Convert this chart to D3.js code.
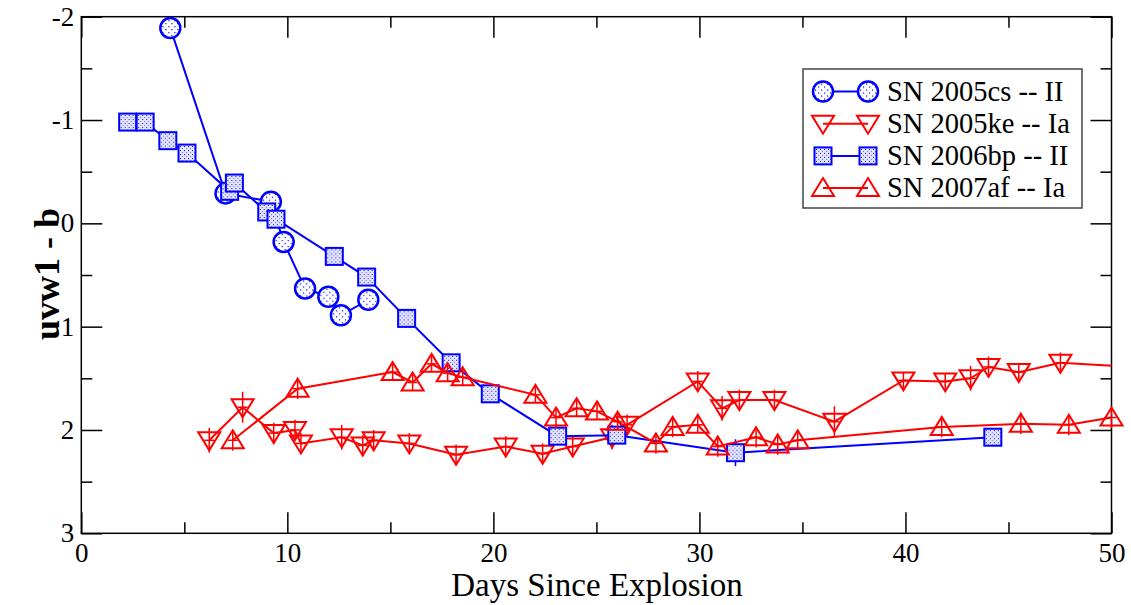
<!DOCTYPE html>
<html>
<head>
<meta charset="utf-8">
<script src="https://cdn.jsdelivr.net/npm/d3@7"></script>
<style>
  body { margin: 0; background: #fff; }
  text { font-family: "Liberation Serif", "Times New Roman", serif; }
</style>
</head>
<body>
<svg id="chart" width="1131" height="605"></svg>
<script>
// データ（日数, uvw1 - b, 誤差）
var cs05Day = [4.32, 7.0, 9.2, 9.82, 10.86, 11.99, 12.6, 13.93];
var cs05Mag = [-1.89, -0.29, -0.21, 0.18, 0.63, 0.71, 0.89, 0.74];

var ke05Day = [6.21, 7.83, 9.34, 10.37, 10.66, 12.64, 13.66, 14.19, 15.92, 18.19, 20.6, 22.39, 23.85, 25.76, 26.49,
               29.92, 31.1, 31.94, 33.64, 36.55, 39.9, 41.93, 43.16, 44.03, 45.5, 47.52, 52.0];
var ke05Mag = [2.10, 1.78, 2.03, 2.00, 2.13, 2.07, 2.15, 2.10, 2.13, 2.24, 2.16, 2.23, 2.16, 2.07, 1.95,
               1.53, 1.79, 1.71, 1.71, 1.92, 1.52, 1.53, 1.50, 1.39, 1.44, 1.35, 1.40];
var ke05Err = [0.12, 0.15, 0.1, 0.1, 0.1, 0.12, 0.1, 0.1, 0.1, 0.1, 0.1, 0.1, 0.1, 0.12, 0.1,
               0.1, 0.12, 0.1, 0.1, 0.15, 0.08, 0.08, 0.12, 0.1, 0.08, 0.1, 0.1];

var bp06Day = [2.25, 3.1, 4.2, 5.13, 7.2, 7.43, 9.0, 9.45, 12.28, 13.85, 15.79, 17.95, 19.85, 23.12, 25.99, 31.75, 44.24];
var bp06Mag = [-0.98, -0.98, -0.80, -0.68, -0.31, -0.39, -0.11, -0.04, 0.32, 0.52, 0.92, 1.35, 1.65, 2.06, 2.05, 2.22, 2.07];
var bp06Err = [0, 0, 0, 0, 0, 0, 0, 0, 0, 0, 0, 0, 0, 0, 0, 0.13, 0];

var af07Day = [7.35, 10.5, 15.11, 16.08, 17.0, 17.78, 18.51, 22.04, 23.04, 24.04, 25.03, 26.03, 27.89, 28.7,
               29.92, 30.89, 32.75, 33.8, 34.77, 41.76, 45.6, 47.93, 50.0];
var af07Mag = [2.10, 1.60, 1.44, 1.54, 1.36, 1.45, 1.49, 1.66, 1.88, 1.79, 1.82, 1.92, 2.13, 1.97,
               1.95, 2.16, 2.07, 2.14, 2.10, 1.97, 1.94, 1.95, 1.88];
var af07Err = [0.1, 0.1, 0.08, 0.08, 0.08, 0.08, 0.08, 0.08, 0.1, 0.08, 0.08, 0.08, 0.1, 0.1,
               0.08, 0.1, 0.1, 0.1, 0.08, 0.1, 0.1, 0.1, 0.1];

var xTicks = [0, 10, 20, 30, 40, 50];
var yTicks = [-2, -1, 0, 1, 2, 3];
var legendNames = ['SN 2005cs -- II', 'SN 2005ke -- Ia', 'SN 2006bp -- II', 'SN 2007af -- Ia'];

var svg = d3.select('#chart');
var pL = 81.3, pR = 1111.5, pT = 16.7, pB = 533.3;

var x = d3.scaleLinear().domain([0, 50]).range([pL, pR]);
var y = d3.scaleLinear().domain([-2, 3]).range([pT, pB]);

// 塗りつぶしパターン
var defs = svg.append('defs');
var pc = defs.append('pattern').attr('id', 'dotCircle')
  .attr('patternUnits', 'userSpaceOnUse').attr('width', 6).attr('height', 6);
pc.append('rect').attr('width', 6).attr('height', 6).attr('fill', '#fff');
pc.append('rect').attr('x', 1).attr('y', 1).attr('width', 1.2).attr('height', 1.2).attr('fill', '#0000ff');
pc.append('rect').attr('x', 4).attr('y', 4).attr('width', 1.2).attr('height', 1.2).attr('fill', '#0000ff');

var ps = defs.append('pattern').attr('id', 'dotSquare')
  .attr('patternUnits', 'userSpaceOnUse').attr('width', 4).attr('height', 4);
ps.append('rect').attr('width', 4).attr('height', 4).attr('fill', '#e4e6ff');
ps.append('rect').attr('x', 1).attr('y', 1).attr('width', 1).attr('height', 1).attr('fill', '#0000ff');
ps.append('rect').attr('x', 3).attr('y', 3).attr('width', 1).attr('height', 1).attr('fill', '#6060ff');

defs.append('clipPath').attr('id', 'plotClip')
  .append('rect').attr('x', pL).attr('y', pT).attr('width', pR - pL).attr('height', pB - pT);

// 軸（目盛りは内向き）
function styleAxis(g) {
  g.select('.domain').remove();
  g.selectAll('line').attr('stroke', '#000').attr('stroke-width', 1.5);
  g.selectAll('text').attr('fill', '#000').style('font-size', '27px')
    .style('font-family', '"Liberation Serif", serif');
}
var minorX = [5, 15, 25, 35, 45];
var minorY = [-1.5, -0.5, 0.5, 1.5, 2.5];

svg.append('g').attr('transform', 'translate(0,' + pB + ')')
  .call(d3.axisBottom(x).tickValues(xTicks).tickSize(-21).tickPadding(10).tickFormat(d3.format('d')))
  .call(styleAxis);
svg.append('g').attr('transform', 'translate(0,' + pB + ')')
  .call(d3.axisBottom(x).tickValues(minorX).tickSize(-11).tickFormat(''))
  .call(styleAxis);
svg.append('g').attr('transform', 'translate(0,' + pT + ')')
  .call(d3.axisTop(x).tickValues(xTicks).tickSize(-21).tickFormat(''))
  .call(styleAxis);
svg.append('g').attr('transform', 'translate(0,' + pT + ')')
  .call(d3.axisTop(x).tickValues(minorX).tickSize(-11).tickFormat(''))
  .call(styleAxis);
svg.append('g').attr('transform', 'translate(' + pL + ',0)')
  .call(d3.axisLeft(y).tickValues(yTicks).tickSize(-21).tickPadding(7).tickFormat(function(d) { return String(d); }))
  .call(styleAxis);
svg.append('g').attr('transform', 'translate(' + pL + ',0)')
  .call(d3.axisLeft(y).tickValues(minorY).tickSize(-11).tickFormat(''))
  .call(styleAxis);
svg.append('g').attr('transform', 'translate(' + pR + ',0)')
  .call(d3.axisRight(y).tickValues(yTicks).tickSize(-21).tickFormat(''))
  .call(styleAxis);
svg.append('g').attr('transform', 'translate(' + pR + ',0)')
  .call(d3.axisRight(y).tickValues(minorY).tickSize(-11).tickFormat(''))
  .call(styleAxis);

svg.append('rect')
  .attr('x', pL).attr('y', pT).attr('width', pR - pL).attr('height', pB - pT)
  .attr('fill', 'none').attr('stroke', '#000').attr('stroke-width', 1.5);

// 軸ラベル
svg.append('text').attr('x', 597).attr('y', 596).attr('text-anchor', 'middle')
  .style('font-size', '33px').text('Days Since Explosion');
svg.append('text').attr('transform', 'translate(59,274) rotate(-90)').attr('text-anchor', 'middle')
  .style('font-size', '36px').style('font-weight', 'bold').text('uvw1 - b');

// マーカー
var triDown = 'M-11,-8L11,-8L0,10Z';
var triUp = 'M0,-10L11,8L-11,8Z';

function drawMarker(g, type, color) {
  if (type === 'circle') {
    g.append('circle').attr('r', 10).attr('fill', 'url(#dotCircle)')
      .attr('stroke', color).attr('stroke-width', 2.5);
  } else if (type === 'square') {
    g.append('rect').attr('x', -8.5).attr('y', -8.5).attr('width', 17).attr('height', 17)
      .attr('fill', 'url(#dotSquare)').attr('stroke', color).attr('stroke-width', 2);
  } else {
    g.append('path').attr('d', type === 'down' ? triDown : triUp)
      .attr('fill', 'none').attr('stroke', color).attr('stroke-width', 2);
  }
}

var series = [
  { day: cs05Day, mag: cs05Mag, err: null, type: 'circle', color: '#0000ff' },
  { day: ke05Day, mag: ke05Mag, err: ke05Err, type: 'down', color: '#ff0000' },
  { day: bp06Day, mag: bp06Mag, err: bp06Err, type: 'square', color: '#0000ff' },
  { day: af07Day, mag: af07Mag, err: af07Err, type: 'up', color: '#ff0000' }
];

var line = d3.line().x(function(d) { return x(d[0]); }).y(function(d) { return y(d[1]); });

series.forEach(function(s) {
  var pts = s.day.map(function(d, i) { return [d, s.mag[i], s.err ? s.err[i] : 0]; });
  var g = svg.append('g');
  g.append('path').datum(pts).attr('d', line)
    .attr('clip-path', 'url(#plotClip)')
    .attr('fill', 'none').attr('stroke', s.color).attr('stroke-width', 2);

  var inside = pts.filter(function(p) { return p[0] >= 0 && p[0] <= 50; });
  // 誤差棒
  var eb = g.selectAll('.err').data(inside.filter(function(p) { return p[2] > 0; })).enter().append('g');
  eb.append('line')
    .attr('x1', function(p) { return x(p[0]); }).attr('x2', function(p) { return x(p[0]); })
    .attr('y1', function(p) { return y(p[1] - p[2]); }).attr('y2', function(p) { return y(p[1] + p[2]); })
    .attr('stroke', s.color).attr('stroke-width', 1.5);
  eb.append('line')
    .attr('x1', function(p) { return x(p[0]) - 5; }).attr('x2', function(p) { return x(p[0]) + 5; })
    .attr('y1', function(p) { return y(p[1]); }).attr('y2', function(p) { return y(p[1]); })
    .attr('stroke', s.color).attr('stroke-width', 1.5);

  g.selectAll('.mk').data(inside).enter().append('g')
    .attr('transform', function(p) { return 'translate(' + x(p[0]) + ',' + y(p[1]) + ')'; })
    .each(function() { drawMarker(d3.select(this), s.type, s.color); });
});

// 凡例
var lg = svg.append('g');
lg.append('rect').attr('x', 803).attr('y', 69).attr('width', 279).attr('height', 139)
  .attr('fill', '#fff').attr('stroke', '#444').attr('stroke-width', 1.5);
legendNames.forEach(function(name, i) {
  var cy = 91.5 + i * 32.2;
  var s = series[i];
  lg.append('line').attr('x1', 823).attr('x2', 868).attr('y1', cy).attr('y2', cy)
    .attr('stroke', s.color).attr('stroke-width', 2);
  [823, 868].forEach(function(cx) {
    var m = lg.append('g').attr('transform', 'translate(' + cx + ',' + cy + ')');
    drawMarker(m, s.type, s.color);
  });
  lg.append('text').attr('x', 887).attr('y', cy + 9).style('font-size', '28.5px').text(name);
});
</script>
</body>
</html>
